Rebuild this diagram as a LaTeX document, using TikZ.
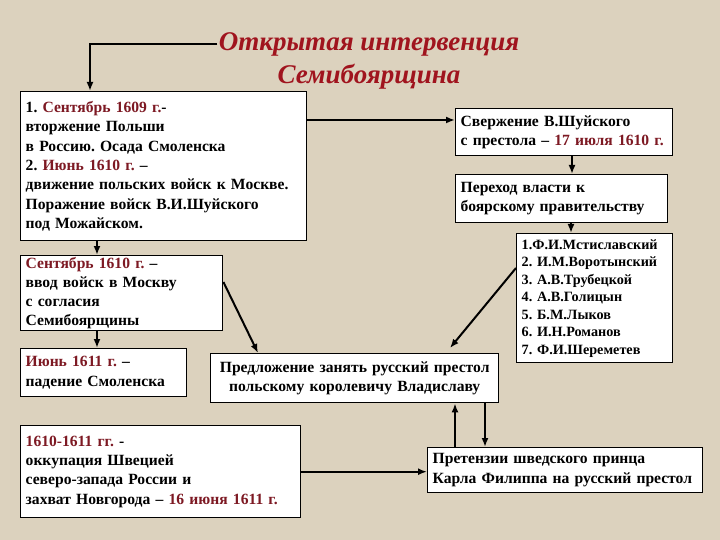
\documentclass[tikz,border=0pt]{standalone}
\usepackage{fontspec}
\setmainfont{Liberation Serif}
\usetikzlibrary{arrows.meta, positioning, calc}
\definecolor{bgbeige}{RGB}{220,210,190}
\definecolor{datered}{RGB}{125,25,35}
\definecolor{titlered}{RGB}{160,20,30}
\newcommand{\dt}[1]{\textcolor{datered}{#1}}
\tikzset{
  box/.style={
    rectangle, draw=black, fill=white, line width=1.4pt,
    anchor=north west, align=left, inner xsep=5pt, inner ysep=1pt,
    font=\fontsize{15.6}{19.3}\selectfont\bfseries\frenchspacing
  },
  lst/.style={box, font=\fontsize{14.2}{17.5}\selectfont\bfseries\frenchspacing},
  ttl/.style={font=\fontsize{27}{30}\selectfont\bfseries\itshape, text=titlered},
  arr/.style={-{Latex[length=9pt,width=7pt]}, line width=2pt}
}

\begin{document}
\begin{tikzpicture}[x=1pt, y=-1pt]
  \fill[bgbeige] (0,0) rectangle (720,540);

  \node[ttl] (t1) at (369,44) {Открытая интервенция};
  \node[ttl] (t2) at (369,77) {Семибоярщина};

  \node[box, text width=276pt, minimum height=149pt] (inv) at (20,91)
    {1. \dt{Сентябрь 1609 г.}-\\
     вторжение Польши\\
     в Россию. Осада Смоленска\\
     2. \dt{Июнь 1610 г.} –\\
     движение польских войск к Москве.\\
     Поражение войск В.И.Шуйского\\
     под Можайском.};
  \node[box, text width=207pt, minimum height=47pt] (svrzh) at (455,108)
    {Свержение В.Шуйского\\с престола – \dt{17 июля 1610 г.}};
  \node[box, text width=202pt, minimum height=48pt] (perehod) at (455,174)
    {Переход власти к\\боярскому правительству};
  \node[lst, text width=146pt, minimum height=129pt] (sostav) at (516,233)
    {1.Ф.И.Мстиславский\\2. И.М.Воротынский\\3. А.В.Трубецкой\\4. А.В.Голицын\\
     5. Б.М.Лыков\\6. И.Н.Романов\\7. Ф.И.Шереметев};
  \node[box, text width=192pt, minimum height=75pt,
        font=\fontsize{15.6}{19}\selectfont\bfseries\frenchspacing] (vvod) at (20,255)
    {\dt{Сентябрь 1610 г.} –\\ввод войск в Москву\\с согласия\\Семибоярщины};
  \node[box, text width=156pt, minimum height=48pt] (smol) at (20,348)
    {\dt{Июнь 1611 г.} –\\падение Смоленска};
  \node[box, text width=278pt, minimum height=49pt, align=center] (vlad) at (210,353)
    {Предложение занять русский престол\\польскому королевичу Владиславу};
  \node[box, text width=270pt, minimum height=92pt] (shved) at (20,425)
    {\dt{1610-1611 гг.} -\\оккупация Швецией\\северо-запада России и\\
     захват Новгорода – \dt{16 июня 1611 г.}};
  \node[box, text width=265pt, minimum height=45pt] (karl) at (427,447)
    {Претензии шведского принца\\Карла Филиппа на русский престол};

  \draw[arr] ([xshift=2pt]t1.west) -| ([xshift=70pt]inv.north west);
  \coordinate (a1) at ([yshift=-29pt]inv.north east);
  \draw[arr] (a1) -- (a1 -| svrzh.west);
  \draw[arr] ([xshift=117pt]svrzh.south west) -- ([xshift=117pt]svrzh.south west |- perehod.north);
  \draw[arr] ([xshift=116pt]perehod.south west) -- ([xshift=116pt]perehod.south west |- sostav.north);
  \draw[arr] ([xshift=77pt]inv.south west) -- ([xshift=77pt]inv.south west |- vvod.north);
  \draw[arr] ([xshift=77pt]vvod.south west) -- ([xshift=77pt]vvod.south west |- smol.north);
  \draw[arr] ([yshift=-27pt]vvod.north east) -- ([xshift=48pt]vlad.north west);
  \draw[arr] ([yshift=-35pt]sostav.north west) -- ([xshift=240pt,yshift=5pt]vlad.north west);
  \draw[arr] ([xshift=245pt]vlad.south west |- karl.north) -- ([xshift=245pt]vlad.south west);
  \draw[arr] ([xshift=275pt]vlad.south west) -- ([xshift=275pt]vlad.south west |- karl.north);
  \draw[arr] (shved.east) -- (shved.east -| karl.west);
\end{tikzpicture}
\end{document}
